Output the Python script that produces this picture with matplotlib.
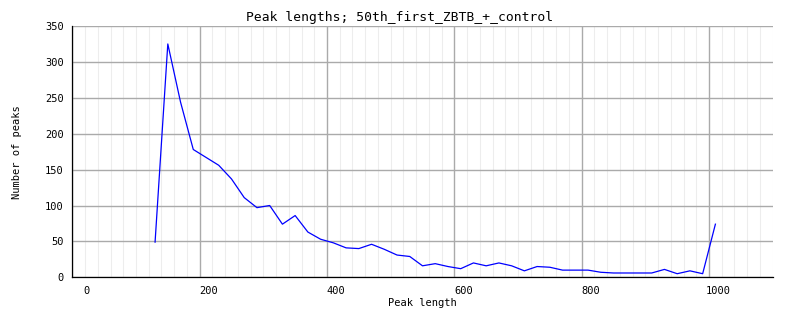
import matplotlib
matplotlib.use('Agg')
import matplotlib.pyplot as plt
import matplotlib.transforms as mtransforms
from matplotlib.ticker import MultipleLocator

# Peak length histogram (20 bp bins)
longitudes = [130, 150, 170, 190, 210, 230, 250, 270, 290, 310,
              330, 350, 370, 390, 410, 430, 450, 470, 490, 510,
              530, 550, 570, 590, 610, 630, 650, 670, 690, 710,
              730, 750, 770, 790, 810, 830, 850, 870, 890, 910,
              930, 950, 970, 990, 1010]
picos = [49, 325, 244, 178, 167, 156, 137, 111, 97, 100,
         74, 86, 63, 53, 48, 41, 40, 46, 39, 31,
         29, 16, 19, 15, 12, 20, 16, 20, 16, 9,
         15, 14, 10, 10, 10, 7, 6, 6, 6, 6,
         11, 5, 9, 5, 74]

x_ticks = [0, 200, 400, 600, 800, 1000]
y_ticks = [0, 50, 100, 150, 200, 250, 300, 350]

fuente = 'DejaVu Sans Mono'

fig = plt.figure(figsize=(8.02, 3.28), dpi=100)
ax = fig.add_axes([72.3 / 802, 1 - 277.3 / 328, (772.7 - 72.3) / 802, (277.3 - 26) / 328])

ax.set_xlim(0, 1100)
ax.set_ylim(0, 350)

# rejilla: menor cada 20, mayor cada 200 en x; cada 50 en y
ax.xaxis.set_minor_locator(MultipleLocator(20))
ax.set_xticks(x_ticks)
ax.set_yticks(y_ticks)
ax.grid(which='minor', axis='x', color='#ededed', linewidth=0.8)
ax.grid(which='major', axis='both', color='#aaaaaa', linewidth=1.0)
ax.set_axisbelow(True)

ax.plot(longitudes, picos, color='#0000ff', linewidth=0.9)

for lado in ['top', 'right']:
    ax.spines[lado].set_visible(False)
for lado in ['left', 'bottom']:
    ax.spines[lado].set_color('black')
    ax.spines[lado].set_linewidth(0.9)

ax.tick_params(which='both', length=0)
ax.tick_params(axis='x', pad=6)
ax.tick_params(axis='y', pad=6)
ax.set_xticklabels([str(v) for v in x_ticks], fontfamily=fuente, fontsize=7.5)
ax.set_yticklabels([str(v) for v in y_ticks], fontfamily=fuente, fontsize=7.5)

# etiquetas del eje x desplazadas a la derecha
for v, lab in zip(x_ticks, ax.get_xticklabels()):
    dx = 14 if v == 0 else 9
    lab.set_transform(lab.get_transform() + mtransforms.ScaledTranslation(dx / 100, 0, fig.dpi_scale_trans))

fig.text(422.5 / 802, 1 - 303 / 328, 'Peak length', ha='center', va='center',
         fontfamily=fuente, fontsize=7.5)
fig.text(17.5 / 802, 1 - 152 / 328, 'Number of peaks', ha='center', va='center',
         rotation=90, fontfamily=fuente, fontsize=7.5)
fig.text(400 / 802, 1 - 18 / 328, 'Peak lengths; 50th_first_ZBTB_+_control',
         ha='center', va='center', fontfamily=fuente, fontsize=9.4)

fig.savefig('out.png', dpi=100)
